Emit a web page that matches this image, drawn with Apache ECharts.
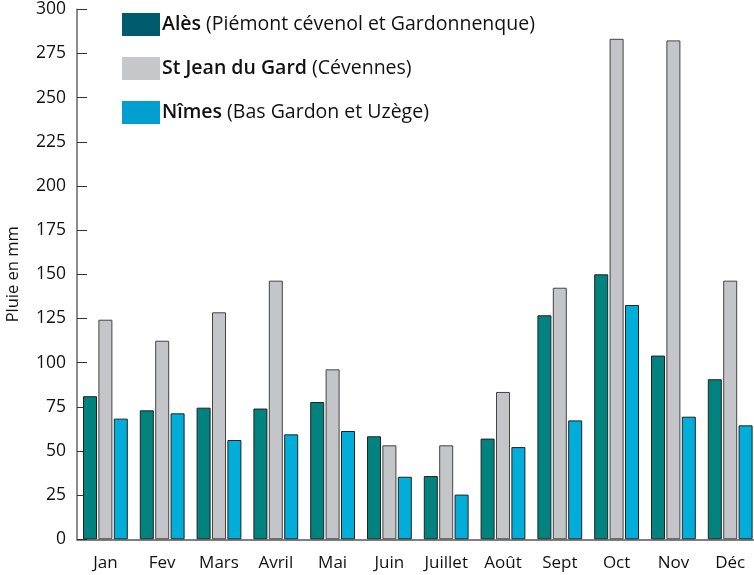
<!DOCTYPE html>
<html>
<head>
<meta charset="utf-8">
<script src="https://cdn.jsdelivr.net/npm/echarts@6/dist/echarts.min.js"></script>
<style>html,body{margin:0;padding:0;background:#fff}#c{width:754px;height:575px}</style>
</head>
<body>
<div id="c"></div>
<script>
const months = ['Jan','Fev','Mars','Avril','Mai','Juin','Juillet','Août','Sept','Oct','Nov','Déc'];
const seriesNames = ['Alès','St Jean du Gard','Nîmes'];
const seriesRegions = ['(Piémont cévenol et Gardonnenque)','(Cévennes)','(Bas Gardon et Uzège)'];
const ales = [81, 73, 74.5, 74, 77.7, 58.3, 35.8, 57, 126.8, 150, 104, 90.6];
const stJean = [124.3, 112.4, 128.5, 146.4, 96.2, 53.2, 53.2, 83.4, 142.4, 283.3, 282.4, 146.4];
const nimes = [68.3, 71.3, 56.2, 59.4, 61.3, 35.4, 25.3, 52.2, 67.3, 132.6, 69.4, 64.5];
const yTicks = [0,25,50,75,100,125,150,175,200,225,250,275,300];

const barColors = ['#00827F','#C4C5C8','#00AED9'];
const legendColors = ['#005A6D','#C6C7C9','#009FCF'];
const font = 'Open Sans';

const chart = echarts.init(document.getElementById('c'));
const values = [ales, stJean, nimes];
chart.setOption({
  animation: false,
  textStyle: {fontFamily: font},
  grid: {left: 77, top: 9.3, width: 681.6, height: 530, containLabel: false, outerBoundsMode: 'none'},
  legend: {
    orient: 'vertical', left: 117, top: 8,
    itemWidth: 38, itemHeight: 23, itemGap: 21,
    icon: 'rect',
    data: seriesNames.map((n,i)=>({name:n, itemStyle:{color:legendColors[i], borderWidth:0}})),
    formatter: function(name){ const i = seriesNames.indexOf(name); return '{b|'+name+'}{r|\u00a0'+seriesRegions[i]+'}'; },
    textStyle: {
      padding: [0,0,0,-3],
      rich: {
        b: {fontFamily: font, fontSize: 19.5, fontWeight: 600, color: '#111'},
        r: {fontFamily: font, fontSize: 19.5, color: '#111'}
      }
    }
  },
  xAxis: {
    type: 'category', data: months,
    axisLine: {lineStyle: {color: '#555', width: 1.5}},
    axisTick: {inside: true, length: 13, lineStyle: {color: '#555', width: 1.5}},
    axisLabel: {color: '#111', fontSize: 17, margin: 15, interval: 0, fontFamily: font}
  },
  yAxis: {
    type: 'value', min: 0, max: 300, interval: 25,
    name: 'Pluie en mm', nameLocation: 'middle', nameRotate: 90, nameGap: 55,
    nameTextStyle: {color: '#111', fontSize: 16.5, fontFamily: font},
    splitLine: {show: false},
    axisLine: {show: true, lineStyle: {color: '#666', width: 1.5}},
    axisTick: {show: true, inside: true, length: 10, lineStyle: {color: '#333', width: 1}},
    axisLabel: {color: '#111', fontSize: 17.5, margin: 11, fontFamily: font,
      formatter: v => yTicks.includes(v) ? String(v) : ''}
  },
  series: seriesNames.map((n,i)=>({
    name: n, type: 'bar', data: values[i],
    barWidth: 14, barGap: '10%',
    itemStyle: {color: barColors[i], borderColor: i===1 ? '#444' : '#222', borderWidth: 1}
  }))
});
</script>
</body>
</html>
